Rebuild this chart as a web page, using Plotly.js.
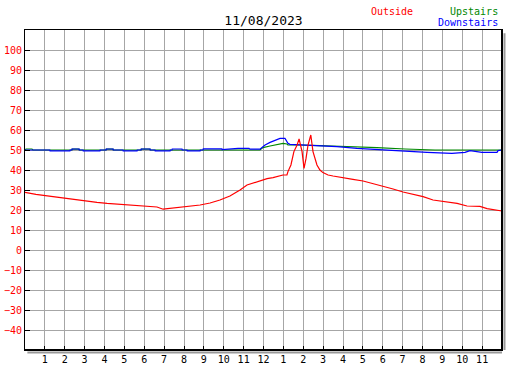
<!DOCTYPE html>
<html>
<head>
<meta charset="utf-8">
<script src="https://cdn.plot.ly/plotly-3.0.1.min.js"></script>
<style>html,body{margin:0;padding:0;background:#fff;}#chart{width:527px;height:370px;}</style>
</head>
<body>
<div id="chart"></div>
<script>
// Hours since midnight (0..24) and temperatures
const outsideHours = [0, 0.55, 1.41, 1.91, 2.42, 3.12, 3.62, 4.13, 4.78, 5.43, 6.14, 6.64, 6.95, 7.30, 8.15, 8.81, 9.31, 9.81, 10.31, 10.82, 11.17, 11.67, 12.18, 12.48, 12.98, 13.18, 13.23, 13.38, 13.53, 13.69, 13.79, 13.94, 13.99, 14.04, 14.14, 14.24, 14.38, 14.49, 14.69, 14.84, 14.99, 15.25, 15.50, 16.00, 16.50, 17.01, 17.51, 18.01, 18.52, 19.02, 19.52, 20.03, 20.53, 21.03, 21.74, 22.24, 22.89, 23.25, 23.75, 24];
const outsideTemps = [28.8, 27.8, 26.7, 26.0, 25.2, 24.5, 23.8, 23.3, 22.8, 22.5, 22.0, 21.5, 20.4, 20.8, 21.7, 22.5, 23.5, 25.0, 27.0, 30.0, 32.5, 34.2, 35.7, 36.2, 37.5, 37.5, 39.2, 42.5, 49.2, 52.5, 55.5, 49.2, 44.0, 40.8, 45.8, 52.5, 57.5, 49.2, 42.5, 40.0, 38.7, 37.5, 37.0, 36.3, 35.3, 34.5, 33.3, 32.0, 30.5, 29.0, 28.0, 26.7, 25.0, 24.3, 23.3, 22.0, 21.8, 20.7, 20.0, 19.5];

const upstairsHours = [0, 0.05, 0.35, 0.40, 2.36, 2.37, 2.72, 2.73, 4.08, 4.09, 4.43, 4.44, 5.84, 5.85, 6.29, 6.30, 11.82, 11.97, 12.33, 12.68, 12.98, 13.18, 13.23, 13.84, 14.49, 14.84, 15.45, 16.60, 17.71, 19.12, 20.63, 24];
const upstairsTemps = [50.0, 50.5, 50.5, 50.0, 50.0, 50.4, 50.4, 50.0, 50.0, 50.4, 50.4, 50.0, 50.0, 50.4, 50.4, 50.0, 50.0, 51.2, 52.0, 52.8, 53.3, 53.0, 52.5, 52.5, 52.5, 52.2, 52.0, 51.7, 51.2, 50.5, 50.0, 50.0];

const downstairsHours = [0, 1.25, 1.26, 2.26, 2.27, 2.36, 2.37, 2.72, 2.73, 2.92, 2.93, 3.77, 3.78, 4.08, 4.09, 4.43, 4.44, 4.93, 4.94, 5.64, 5.65, 5.84, 5.85, 6.29, 6.30, 6.54, 6.55, 7.30, 7.31, 7.40, 7.41, 7.90, 7.91, 8.15, 8.16, 8.81, 8.82, 8.96, 8.97, 9.91, 9.92, 10.72, 11.27, 11.32, 11.82, 12.08, 12.33, 12.48, 12.83, 13.08, 13.23, 13.33, 14.24, 14.94, 15.70, 16.70, 17.46, 18.26, 19.12, 20.23, 21.48, 22.14, 22.39, 22.74, 22.99, 23.75, 23.80, 24];
const downstairsTemps = [50.0, 50.0, 49.6, 49.6, 50.0, 50.0, 50.5, 50.5, 50.0, 50.0, 49.6, 49.6, 50.0, 50.0, 50.5, 50.5, 50.0, 50.0, 49.6, 49.6, 50.0, 50.0, 50.5, 50.5, 50.0, 50.0, 49.6, 49.6, 50.0, 50.0, 50.5, 50.5, 50.0, 50.0, 49.6, 49.6, 50.0, 50.0, 50.6, 50.6, 50.2, 50.8, 50.8, 50.4, 50.4, 52.5, 53.8, 54.5, 55.8, 55.8, 53.3, 52.8, 52.5, 52.2, 51.7, 50.8, 50.3, 50.0, 49.5, 48.8, 48.3, 48.8, 49.7, 49.2, 48.8, 48.8, 49.7, 50.0];

const xTickVals = [1,2,3,4,5,6,7,8,9,10,11,12,13,14,15,16,17,18,19,20,21,22,23];
const xTickText = ['1','2','3','4','5','6','7','8','9','10','11','12','1','2','3','4','5','6','7','8','9','10','11'];
const yTickVals = [-40,-30,-20,-10,0,10,20,30,40,50,60,70,80,90,100];
const chartTitle = '11/08/2023';
const seriesNames = ['Outside', 'Upstairs', 'Downstairs'];
const seriesColors = ['#ff0000', '#008800', '#0000ff'];

const mono = 'DejaVu Sans Mono, monospace';

const traces = [
  {x: upstairsHours, y: upstairsTemps, name: seriesNames[1], type: 'scatter', mode: 'lines', line: {color: seriesColors[1], width: 1.2}},
  {x: downstairsHours, y: downstairsTemps, name: seriesNames[2], type: 'scatter', mode: 'lines', line: {color: seriesColors[2], width: 1.2}},
  {x: outsideHours, y: outsideTemps, name: seriesNames[0], type: 'scatter', mode: 'lines', line: {color: seriesColors[0], width: 1.2}}
];

const layout = {
  width: 527, height: 370,
  margin: {l: 25, r: 25, t: 30, b: 20, pad: 0},
  paper_bgcolor: '#ffffff', plot_bgcolor: '#ffffff',
  showlegend: false,
  title: {text: chartTitle, font: {family: mono, size: 13, color: '#000'}, x: 0.5, xref: 'container', y: 1 - 20/370, yref: 'container', yanchor: 'middle', xanchor: 'center'},
  xaxis: {
    range: [0, 24], tickmode: 'array', tickvals: xTickVals, ticktext: xTickText,
    ticks: 'inside', ticklen: 4, tickwidth: 1, tickcolor: '#000',
    showgrid: true, gridcolor: '#a6a6a6', gridwidth: 1,
    showline: true, linecolor: '#000', linewidth: 1, mirror: true,
    zeroline: false, fixedrange: true,
    tickfont: {family: mono, size: 10, color: '#000'}
  },
  yaxis: {
    range: [-50, 110], tickmode: 'array', tickvals: yTickVals,
    ticks: 'inside', ticklen: 5, tickwidth: 1, tickcolor: '#000',
    showgrid: true, gridcolor: '#a6a6a6', gridwidth: 1,
    showline: true, linecolor: '#000', linewidth: 1, mirror: true,
    zeroline: false, fixedrange: true,
    tickfont: {family: mono, size: 10, color: '#ff0000'}
  },
  shapes: [
    {type: 'line', xref: 'paper', yref: 'paper', x0: 1, x1: 1, y0: 0, y1: 1, line: {color: '#000', width: 2}},
    {type: 'line', xref: 'paper', yref: 'paper', x0: 0, x1: 1, y0: 0, y1: 0, line: {color: '#000', width: 2}},
    {type: 'rect', xref: 'paper', yref: 'paper', xsizemode: 'pixel', xanchor: 1, x0: 1.5, x1: 3.5, y0: 0, y1: 0.99, fillcolor: '#999999', line: {width: 0}},
    {type: 'rect', xref: 'paper', yref: 'paper', ysizemode: 'pixel', yanchor: 0, y0: -1.5, y1: -3.5, x0: 0.005, x1: 1, fillcolor: '#999999', line: {width: 0}}
  ],
  annotations: [
    {text: seriesNames[0], xref: 'paper', yref: 'paper', x: (369-25)/477, y: 1 + (30-11)/320, xanchor: 'left', yanchor: 'middle', showarrow: false, font: {family: mono, size: 10, color: seriesColors[0]}},
    {text: seriesNames[1], xref: 'paper', yref: 'paper', x: (500-25)/477, y: 1 + (30-11)/320, xanchor: 'right', yanchor: 'middle', showarrow: false, font: {family: mono, size: 10, color: seriesColors[1]}},
    {text: seriesNames[2], xref: 'paper', yref: 'paper', x: (500-25)/477, y: 1 + (30-23)/320, xanchor: 'right', yanchor: 'middle', showarrow: false, font: {family: mono, size: 10, color: seriesColors[2]}}
  ]
};

Plotly.newPlot('chart', traces, layout, {staticPlot: true, displayModeBar: false});
</script>
</body>
</html>
